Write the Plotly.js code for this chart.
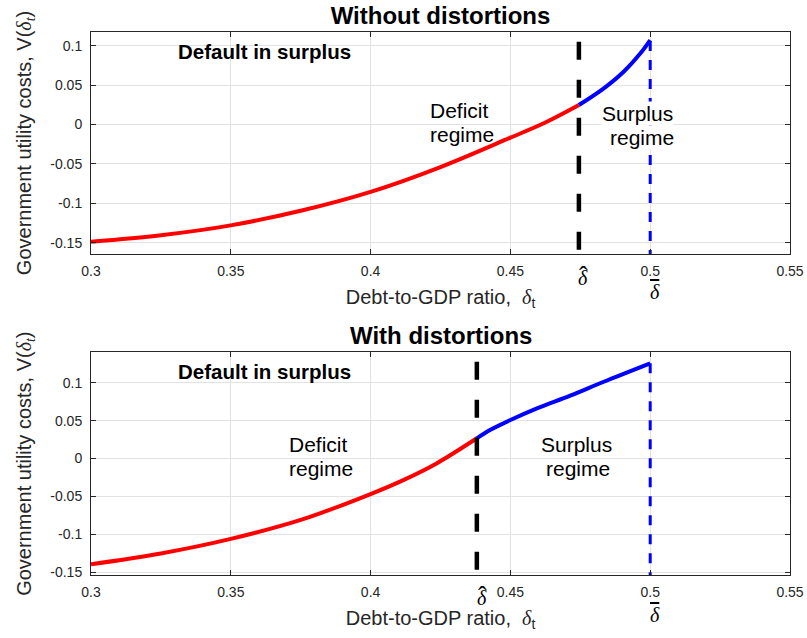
<!DOCTYPE html>
<html>
<head>
<meta charset="utf-8">
<script src="https://cdn.plot.ly/plotly-3.0.1.min.js"></script>
<style>html,body{margin:0;padding:0;background:#fff;}#chart{width:807px;height:638px;}</style>
</head>
<body>
<div id="chart"></div>
<script>
// ---- Data ----
// Panel 1: Without distortions
const topDeficitX = [0.3, 0.325, 0.35, 0.375, 0.4, 0.425, 0.45, 0.4625, 0.4745];
const topDeficitY = [-0.1487, -0.1405, -0.128, -0.1095, -0.0855, -0.054, -0.0167, 0.0025, 0.0247];
const topSurplusX = [0.4745, 0.4834, 0.4905, 0.4965, 0.5];
const topSurplusY = [0.0247, 0.0459, 0.067, 0.0904, 0.1072];
// Panel 2: With distortions
const botDeficitX = [0.3, 0.325, 0.35, 0.375, 0.4, 0.4117, 0.4236, 0.438];
const botDeficitY = [-0.1394, -0.1252, -0.106, -0.081, -0.0468, -0.0284, -0.0064, 0.0267];
const botSurplusX = [0.438, 0.4427, 0.45, 0.4595, 0.4714, 0.4834, 0.5];
const botSurplusY = [0.0267, 0.0376, 0.0508, 0.0662, 0.0829, 0.1013, 0.1256];
// Thresholds
const deltaHat = [0.4745, 0.438];   // per panel
const deltaBar = 0.5;
const hatLineY = [[0.105, -0.2], [0.1277, -0.2]];
const barLineY = [[0.13, -0.2], [0.1256, -0.2]];
// Ticks
const xTickVals = [0.3, 0.35, 0.4, 0.45, 0.5, 0.55];
const xTickText = ['0.3', '0.35', '0.4', '0.45', '0.5', '0.55'];
const yTickVals = [-0.15, -0.1, -0.05, 0, 0.05, 0.1];
const yTickText = ['-0.15', '-0.1', '-0.05', '0', '0.05', '0.1'];
const panelTitles = ['Without distortions', 'With distortions'];

// ---- Styling ----
const SANS = 'Liberation Sans, Arial, Helvetica, sans-serif';
const SERIF = 'Liberation Serif, Times New Roman, serif';
const AX = '#262626';
const RED = '#ff0000', BLUE = '#0000ff';

function curve(x, y, color, xa, ya) {
  return {x: x, y: y, xaxis: xa, yaxis: ya, mode: 'lines', type: 'scatter',
    line: {color: color, width: 4, shape: 'spline', smoothing: 1}, hoverinfo: 'skip', showlegend: false};
}
function vline(xv, ys, color, width, dash, xa, ya) {
  return {x: [xv, xv], y: ys, xaxis: xa, yaxis: ya, mode: 'lines', type: 'scatter',
    line: {color: color, width: width, dash: dash}, hoverinfo: 'skip', showlegend: false};
}

const traces = [
  curve(topDeficitX, topDeficitY, RED, 'x', 'y'),
  curve(topSurplusX, topSurplusY, BLUE, 'x', 'y'),
  vline(deltaHat[0], hatLineY[0], '#000', 4.5, '18px,20px', 'x', 'y'),
  vline(deltaBar, barLineY[0], BLUE, 3, '10px,9px', 'x', 'y'),
  curve(botDeficitX, botDeficitY, RED, 'x2', 'y2'),
  curve(botSurplusX, botSurplusY, BLUE, 'x2', 'y2'),
  vline(deltaHat[1], hatLineY[1], '#000', 4.5, '18px,20px', 'x2', 'y2'),
  vline(deltaBar, barLineY[1], BLUE, 3, '10px,9px', 'x2', 'y2')
];

const xTitle = 'Debt-to-GDP ratio,  <span style="font-family:' + SERIF + '"><i>δ</i></span><sub>t</sub>';
const yTitle = 'Government utility costs, V(<span style="font-family:' + SERIF + '"><i>δ<sub>t</sub></i></span>)';

function xaxis(anchor) {
  return {anchor: anchor, domain: [0, 1], range: [0.3, 0.55], tickvals: xTickVals, ticktext: xTickText,
    showgrid: true, gridcolor: '#e2e2e2', gridwidth: 1, zeroline: false,
    showline: true, linecolor: AX, linewidth: 1, mirror: 'ticks', ticks: 'inside', ticklen: 5, tickcolor: AX,
    tickfont: {family: SANS, size: 14, color: AX}, ticklabelstandoff: 4,
    title: {text: xTitle, font: {family: SANS, size: 20, color: AX}, standoff: 12}};
}
function yaxis(anchor, domain, range) {
  return {anchor: anchor, domain: domain, range: range, tickvals: yTickVals, ticktext: yTickText,
    showgrid: true, gridcolor: '#e2e2e2', gridwidth: 1, zeroline: false,
    showline: true, linecolor: AX, linewidth: 1, mirror: 'ticks', ticks: 'inside', ticklen: 5, tickcolor: AX,
    tickfont: {family: SANS, size: 14, color: AX}, ticklabelstandoff: 5,
    title: {text: yTitle, font: {family: SANS, size: 20, color: AX}, standoff: 13}};
}

function txt(text, x, y, xa, ya, opts) {
  return Object.assign({text: text, x: x, y: y, xref: xa, yref: ya, showarrow: false,
    xanchor: 'center', yanchor: 'middle', font: {family: SANS, size: 21, color: '#000'}}, opts || {});
}
const BOLD = {family: SANS, size: 20.5, color: '#000'};
const DF = {family: SERIF, size: 20, color: '#000', style: 'italic'};
// delta with a hat: the circumflex is pulled back over the delta and lifted
const HAT = '<span style="letter-spacing:-8.3px">δ</span><span style="font-style:normal;font-size:26px;baseline-shift:1.5px">ˆ</span>';
const BAR = '<span style="text-decoration:overline">δ</span>';

const annotations = [
  // panel 1
  txt('<b>Default in surplus</b>', 0.3621, 0.093, 'x', 'y', {font: BOLD}),
  txt('Deficit', 0.4204, 0.0178, 'x', 'y', {xanchor: 'left'}),
  txt('regime', 0.4204, -0.0121, 'x', 'y', {xanchor: 'left'}),
  txt('Surplus', 0.4954, 0.0137, 'x', 'y', {bgcolor: '#ffffff', borderpad: 0}),
  txt('regime', 0.4972, -0.0159, 'x', 'y', {bgcolor: '#ffffff', borderpad: 0}),
  txt(HAT, deltaHat[0], 0.5525, 'x', 'paper', {font: DF, xshift: 4, yanchor: 'middle'}),
  txt(BAR, deltaBar, 0.5219, 'x', 'paper', {font: DF, xshift: 5}),
  // panel 2
  txt('<b>' + panelTitles[1] + '</b>', 0.5, 0.4407, 'paper', 'paper', {font: {family: SANS, size: 24, color: '#000'}}),
  txt('<b>Default in surplus</b>', 0.3621, 0.1142, 'x2', 'y2', {font: BOLD}),
  txt('Deficit', 0.3702, 0.0183, 'x2', 'y2', {xanchor: 'left'}),
  txt('regime', 0.3702, -0.0127, 'x2', 'y2', {xanchor: 'left'}),
  txt('Surplus', 0.4737, 0.0183, 'x2', 'y2'),
  txt('regime', 0.4742, -0.0127, 'x2', 'y2'),
  txt(HAT, deltaHat[1], -0.0368, 'x2', 'paper', {font: DF, xshift: 5}),
  txt(BAR, deltaBar, -0.0737, 'x2', 'paper', {font: DF, xshift: 5})
];

const layout = {
  width: 807, height: 638,
  margin: {l: 91, r: 17, t: 32, b: 63},
  paper_bgcolor: '#ffffff', plot_bgcolor: '#ffffff',
  font: {family: SANS, color: AX},
  showlegend: false,
  title: {text: '<b>' + panelTitles[0] + '</b>', x: 0.5, xref: 'paper', xanchor: 'center',
    y: 1.0324, yref: 'paper', yanchor: 'middle', font: {family: SANS, size: 24, color: '#000'}},
  xaxis: xaxis('y'),
  yaxis: yaxis('x', [0.5912, 1], [-0.1643, 0.1174]),
  xaxis2: xaxis('y2'),
  yaxis2: yaxis('x2', [0, 0.4101], [-0.1536, 0.1401]),
  annotations: annotations
};

Plotly.newPlot('chart', traces, layout, {displayModeBar: false, staticPlot: true});
</script>
</body>
</html>
